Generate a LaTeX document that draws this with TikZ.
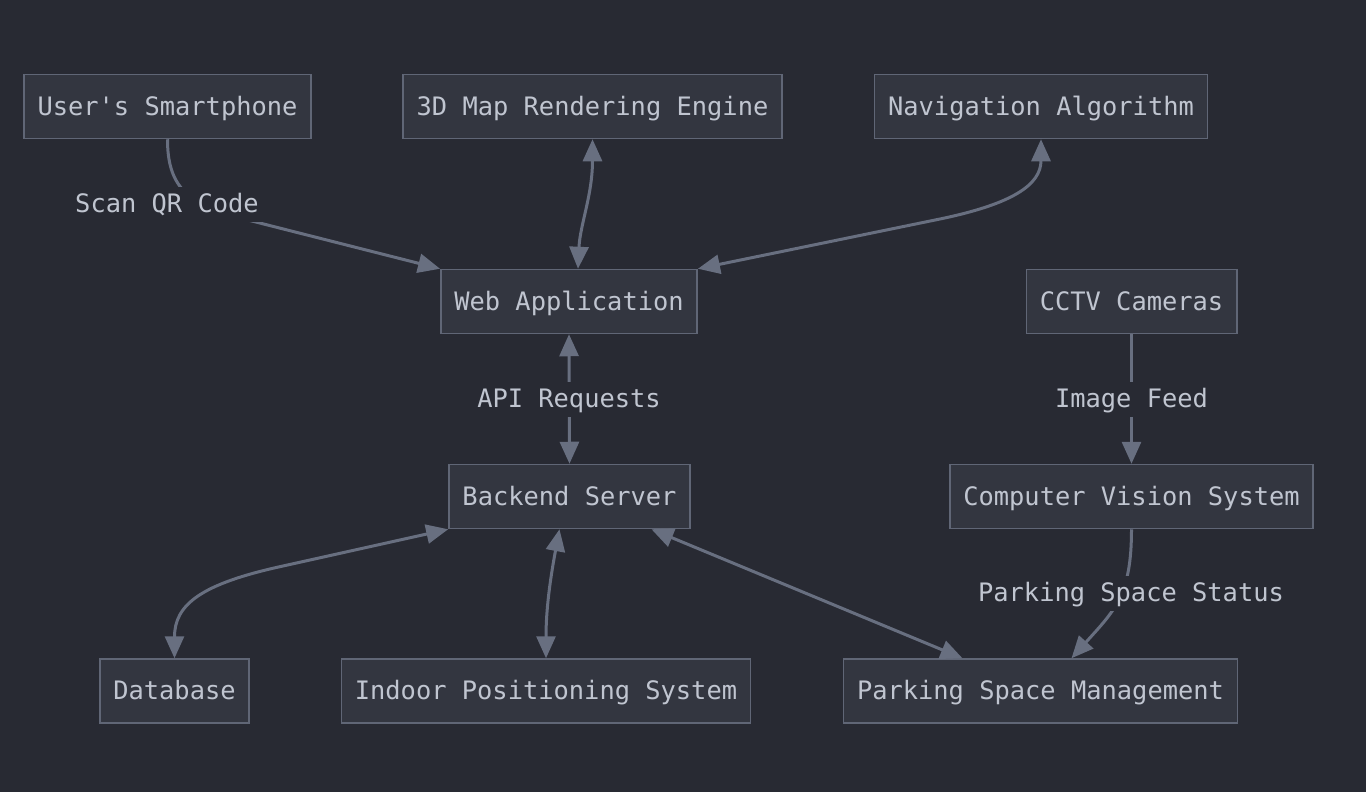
\documentclass[tikz,border=0pt]{standalone}
\usepackage{fontspec}
\setmonofont{DejaVu Sans Mono}
\usetikzlibrary{arrows.meta}

\definecolor{bg}{RGB}{40,42,51}
\definecolor{boxfill}{RGB}{51,54,64}
\definecolor{boxline}{RGB}{96,102,118}
\definecolor{txt}{RGB}{192,197,208}
\definecolor{wirecol}{RGB}{104,111,128}

\tikzset{
  box/.style={draw=boxline, line width=1.5pt, fill=boxfill, text=txt,
    minimum height=64pt, inner xsep=13.5pt, text height=22pt, text depth=5pt,
    font=\ttfamily\fontsize{25.4}{30}\selectfont},
  tag/.style={fill=bg, text=txt, inner sep=4pt, text height=22pt, text depth=5pt,
    font=\ttfamily\fontsize{25.4}{30}\selectfont},
  wire/.style={draw=wirecol, line width=3pt}
}

\begin{document}
\begin{tikzpicture}[x=1pt,y=-1pt,>={Triangle[length=22pt,width=19pt]}]

\fill[bg] (0,0) rectangle (1366,792);
\useasboundingbox (0,0) rectangle (1366,792);

% top row
\node[box] (phone) at(167.5,106.5){User's Smartphone};

\node[box] (map) at(592.5,106.5){3D Map Rendering Engine};

\node[box] (nav) at(1041,106.5){Navigation Algorithm};

% middle rows
\node[box] (web) at(569,301.5){Web Application};

\node[box] (cctv) at(1131.5,301.5){CCTV Cameras};

\node[box] (back) at(569.5,496.5){Backend Server};

\node[box] (cv) at(1131.5,496.5){Computer Vision System};

% bottom row
\node[box] (db) at(174.5,691){Database};

\node[box] (ips) at(546,691){Indoor Positioning System};

\node[box] (psm) at(1040.5,691){Parking Space Management};

% connectors
\draw[wire,->] (phone.south) .. controls (167.5,185) and (186,204) .. (240,218) -- (web.north west);

\draw[wire,<->] (map.south) .. controls (592.5,195) and (580,225) .. ([xshift=9pt]web.north);

\draw[wire,<->] (nav.south) .. controls (1041,185) and (1012,204) .. (940,219) -- (web.north east);

\draw[wire,<->] (web.south) -- (back.north);

\draw[wire,->] (cctv.south) -- (cv.north);

\draw[wire,->] (cv.south) .. controls (1131.5,595) and (1115,610) .. ([xshift=31pt]psm.north);

\draw[wire,<->] (back.south west) -- (283,566) .. controls (200,584) and (174.5,605) .. (db.north);

\draw[wire,<->] ([xshift=-10pt]back.south) .. controls (550,580) and (546,610) .. (ips.north);

\draw[wire,<->] ([xshift=82pt]back.south) -- ([xshift=-78pt]psm.north);

% edge labels
\node[tag] (qr) at(167,204){Scan QR Code};

\node[tag] (api) at(569,399){API Requests};

\node[tag] (feed) at(1131.5,399){Image Feed};

\node[tag] (status) at(1131,593){Parking Space Status};

\end{tikzpicture}
\end{document}
